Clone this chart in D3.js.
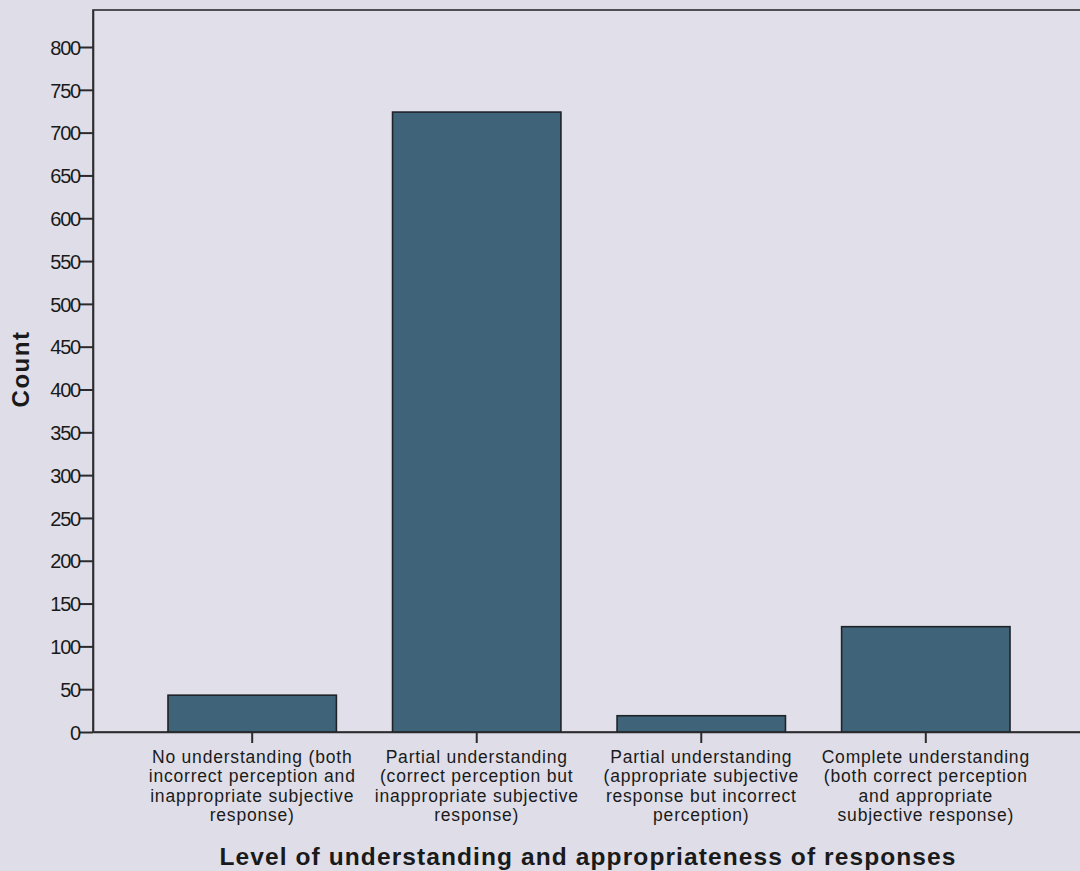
<!DOCTYPE html>
<html>
<head>
<meta charset="utf-8">
<script src="https://cdn.jsdelivr.net/npm/d3@7"></script>
<style>
  html, body { margin: 0; padding: 0; background: #dfdee8; }
  svg { display: block; }
  text { font-family: "Liberation Sans", Arial, sans-serif; fill: #1a1a1a; }
</style>
</head>
<body>
<svg id="chart" width="1080" height="871"></svg>
<script>
// Category labels, split into the lines drawn under each bar
const categories = [
  ["No understanding (both", "incorrect perception and", "inappropriate subjective", "response)"],
  ["Partial understanding", "(correct perception but", "inappropriate subjective", "response)"],
  ["Partial understanding", "(appropriate subjective", "response but incorrect", "perception)"],
  ["Complete understanding", "(both correct perception", "and appropriate", "subjective response)"]
];
const counts = [43, 724, 19, 123];
const yTicks = [0, 50, 100, 150, 200, 250, 300, 350, 400, 450, 500, 550, 600, 650, 700, 750, 800];
const xTitle = "Level of understanding and appropriateness of responses";
const yTitle = "Count";

const svg = d3.select("#chart");
const W = 1080, H = 871;
const plot = { left: 93, right: 1085, top: 10, bottom: 732 };

svg.append("rect").attr("width", W).attr("height", H).attr("fill", "#dfdee8");

const keys = categories.map((c, i) => i);
const x = d3.scaleBand()
  .domain(keys)
  .range([plot.left, plot.right])
  .paddingInner(0.25)
  .paddingOuter(0.334);

// 0..800 spans 685 px; axis extends to the frame top
const pxPerUnit = 685 / 800;
const y = d3.scaleLinear()
  .domain([0, (plot.bottom - plot.top) / pxPerUnit])
  .range([plot.bottom, plot.top]);

// Frame
svg.append("rect")
  .attr("x", plot.left).attr("y", plot.top)
  .attr("width", plot.right - plot.left).attr("height", plot.bottom - plot.top)
  .attr("fill", "#e1e0ea")
  .attr("stroke", "#2b2b2e").attr("stroke-width", 1.6);

// Bars
svg.append("g").selectAll("rect")
  .data(counts)
  .join("rect")
  .attr("x", (d, i) => x(i))
  .attr("y", d => y(d))
  .attr("width", x.bandwidth())
  .attr("height", d => y(0) - y(d))
  .attr("fill", "#3f6479")
  .attr("stroke", "#1f2328")
  .attr("stroke-width", 1.6);

// Y axis
const yAxis = svg.append("g")
  .attr("transform", `translate(${plot.left},0)`)
  .call(d3.axisLeft(y).tickValues(yTicks).tickSize(13).tickSizeOuter(0).tickPadding(0).tickFormat(d3.format("d")));
yAxis.select(".domain").attr("stroke", "#2b2b2e").attr("stroke-width", 1.6);
yAxis.selectAll(".tick line").attr("stroke", "#2b2b2e").attr("stroke-width", 2);
yAxis.selectAll(".tick text")
  .attr("font-size", 20).attr("fill", "#1f1f22")
  .attr("dy", "0.36em")
  .attr("letter-spacing", -1.2);

// X axis
const xAxis = svg.append("g")
  .attr("transform", `translate(0,${plot.bottom})`)
  .call(d3.axisBottom(x).tickSize(11).tickSizeOuter(0).tickFormat(""));
xAxis.select(".domain").attr("stroke", "#2b2b2e").attr("stroke-width", 1.6);
xAxis.selectAll(".tick line").attr("stroke", "#2b2b2e").attr("stroke-width", 2);

// Multi-line category labels
const labelG = svg.append("g");
categories.forEach((lines, i) => {
  const cx = x(i) + x.bandwidth() / 2;
  const t = labelG.append("text")
    .attr("text-anchor", "middle")
    .attr("font-size", 17.5)
    .attr("letter-spacing", 0.8)
    .attr("fill", "#1f1f22");
  lines.forEach((ln, j) => {
    t.append("tspan").attr("x", cx).attr("y", 763 + j * 19.3).text(ln);
  });
});

// Axis titles
svg.append("text")
  .attr("x", 588).attr("y", 865)
  .attr("text-anchor", "middle")
  .attr("font-size", 24.5).attr("font-weight", "bold")
  .attr("letter-spacing", 1.1)
  .attr("fill", "#1c1a1e")
  .text(xTitle);

svg.append("text")
  .attr("transform", "translate(29,369) rotate(-90)")
  .attr("text-anchor", "middle")
  .attr("font-size", 24).attr("font-weight", "bold")
  .attr("letter-spacing", 1.5)
  .attr("fill", "#1c1a1e")
  .text(yTitle);
</script>
</body>
</html>
